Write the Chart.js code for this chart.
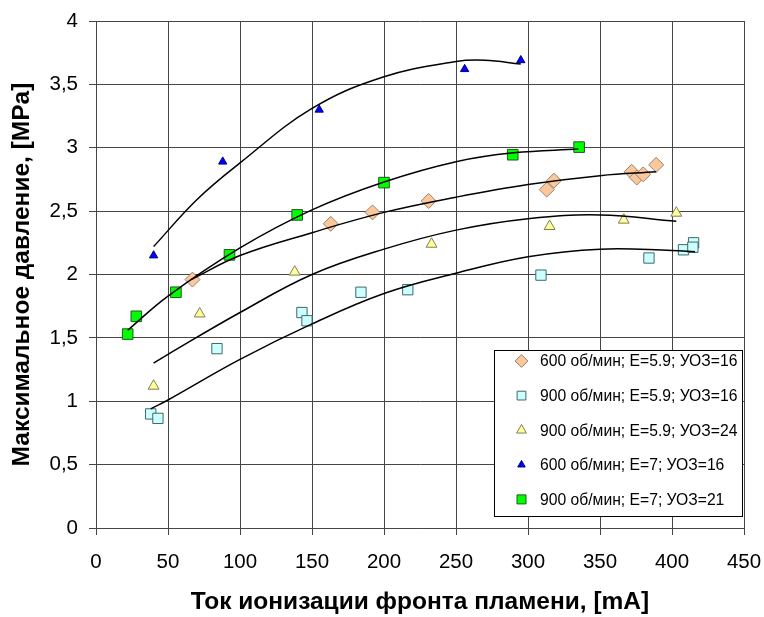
<!DOCTYPE html>
<html>
<head>
<meta charset="utf-8">
<script src="https://cdn.jsdelivr.net/npm/chart.js@4.4.1/dist/chart.umd.min.js"></script>
<style>
  html, body { margin: 0; padding: 0; background: #fff; }
  #wrap { width: 764px; height: 617px; }
</style>
</head>
<body>
<div id="wrap"><canvas id="chart" width="764" height="617"></canvas></div>
<script>
// measured points
const orangeX = [67, 163, 192, 231, 313, 318, 372, 375.5, 380, 389]
const orangeY = [1.96, 2.40, 2.49, 2.58, 2.67, 2.74, 2.81, 2.765, 2.79, 2.865]

const cyanX = [38, 43, 84, 143, 146.5, 184, 216.5, 309, 384, 408, 415, 414.5]
const cyanY = [0.90, 0.865, 1.415, 1.70, 1.635, 1.86, 1.88, 1.995, 2.13, 2.195, 2.25, 2.215]

const yellowX = [40, 72, 138, 233, 315, 366.5, 403]
const yellowY = [1.12, 1.69, 2.02, 2.24, 2.38, 2.43, 2.485]

const blueX = [40, 88, 155, 256, 295]
const blueY = [2.15, 2.89, 3.30, 3.62, 3.69]

const greenX = [22, 28, 55.5, 92.7, 139.7, 200, 289.4, 335.5]
const greenY = [1.53, 1.67, 1.86, 2.155, 2.47, 2.725, 2.945, 3.005]

// trend lines
const orangeTrendX = [66, 100, 150, 200, 250, 300, 350, 389]
const orangeTrendY = [1.96, 2.15, 2.33, 2.49, 2.61, 2.71, 2.78, 2.81]

const cyanTrendX = [38, 50, 100, 150, 200, 250, 300, 350, 400, 416]
const cyanTrendY = [0.94, 1.01, 1.33, 1.61, 1.85, 2.01, 2.14, 2.20, 2.19, 2.18]

const yellowTrendX = [40, 50, 100, 150, 200, 250, 300, 350, 403]
const yellowTrendY = [1.30, 1.37, 1.70, 2.00, 2.20, 2.35, 2.44, 2.47, 2.42]

const blueTrendX = [40, 70, 100, 150, 200, 250, 270, 295]
const blueTrendY = [2.22, 2.59, 2.88, 3.31, 3.56, 3.68, 3.69, 3.66]

const greenTrendX = [22, 50, 100, 150, 200, 250, 290, 335]
const greenTrendY = [1.56, 1.83, 2.21, 2.51, 2.73, 2.89, 2.96, 2.99]

const labels = [
  '600 об/мин; E=5.9; УОЗ=16',
  '900 об/мин; E=5.9; УОЗ=16',
  '900 об/мин; E=5.9; УОЗ=24',
  '600 об/мин; E=7; УОЗ=16',
  '900 об/мин; E=7; УОЗ=21'
]

const xTitle = 'Ток ионизации фронта пламени, [mA]'
const yTitle = 'Максимальное давление, [MPa]'

const FONT = "'Liberation Sans', Arial, sans-serif"

function toPoints(xs, ys) {
  return xs.map((x, i) => ({ x: x, y: ys[i] }))
}

function trend(xs, ys) {
  return {
    type: 'line',
    data: toPoints(xs, ys),
    borderColor: '#000',
    borderWidth: 1.5,
    pointRadius: 0,
    tension: 0.4,
    fill: false
  }
}

const markers = [
  { label: labels[0], data: toPoints(orangeX, orangeY), pointStyle: 'rectRot', pointRadius: 7.5, backgroundColor: '#FBC79C', borderColor: '#9C8069' },
  { label: labels[1], data: toPoints(cyanX, cyanY), pointStyle: 'rect', pointRadius: 7.3, backgroundColor: '#CCFFFF', borderColor: '#3F6868' },
  { label: labels[2], data: toPoints(yellowX, yellowY), pointStyle: 'triangle', pointRadius: 6.3, backgroundColor: '#FFFF99', borderColor: '#7F7F5A' },
  { label: labels[3], data: toPoints(blueX, blueY), pointStyle: 'triangle', pointRadius: 4.8, backgroundColor: '#0000FF', borderColor: '#000080' },
  { label: labels[4], data: toPoints(greenX, greenY), pointStyle: 'rect', pointRadius: 7.5, backgroundColor: '#00FF00', borderColor: '#1E5A1E' }
].map((d) => ({ ...d, type: 'scatter', borderWidth: 1, pointHoverRadius: d.pointRadius }))

const trends = [
  trend(orangeTrendX, orangeTrendY),
  trend(cyanTrendX, cyanTrendY),
  trend(yellowTrendX, yellowTrendY),
  trend(blueTrendX, blueTrendY),
  trend(greenTrendX, greenTrendY)
]

// legend box drawn inside the plot
const boxLegend = {
  id: 'boxLegend',
  afterDraw(chart) {
    const ctx = chart.ctx
    const x0 = 494, y0 = 350, w = 248, h = 166
    ctx.save()
    ctx.fillStyle = '#fff'
    ctx.fillRect(x0, y0, w, h)
    ctx.strokeStyle = '#000'
    ctx.lineWidth = 1
    ctx.strokeRect(x0 + 0.5, y0 + 0.5, w, h)
    markers.forEach((m, i) => {
      const cy = y0 + 11 + i * 34.6
      ctx.fillStyle = m.backgroundColor
      ctx.strokeStyle = m.borderColor
      ctx.lineWidth = 1
      Chart.helpers.drawPoint(ctx, {
        pointStyle: m.pointStyle,
        radius: m.pointStyle === 'triangle' ? m.pointRadius * 0.9 : m.pointRadius * 0.85,
        rotation: 0,
        borderWidth: 1
      }, 521.5, cy)
      ctx.fillStyle = '#000'
      ctx.font = '15.7px ' + FONT
      ctx.textBaseline = 'middle'
      ctx.fillText(m.label, 540, cy + 1)
    })
    ctx.restore()
  }
}

new Chart(document.getElementById('chart').getContext('2d'), {
  data: { datasets: [...trends, ...markers] },
  options: {
    responsive: false,
    devicePixelRatio: 1,
    animation: false,
    layout: { padding: { top: 21, right: 20, left: 0, bottom: 0 } },
    plugins: {
      legend: { display: false },
      tooltip: { enabled: false }
    },
    scales: {
      x: {
        type: 'linear',
        min: 0,
        max: 450,
        afterFit: (scale) => {
          scale.height = 89
          scale.paddingLeft = 0
          scale.paddingRight = 0
        },
        ticks: { stepSize: 50, color: '#000', padding: 15, maxRotation: 0, font: { family: FONT, size: 20.5 } },
        grid: { color: '#454545', lineWidth: 1, tickLength: 7 },
        border: { color: '#454545' },
        title: { display: true, text: xTitle, color: '#000', padding: { top: 0, bottom: 0 }, font: { family: FONT, size: 24.5, weight: 'bold' } }
      },
      y: {
        min: 0,
        max: 4,
        afterFit: (scale) => {
          scale.width = 96
          scale.paddingTop = 0
          scale.paddingBottom = 0
        },
        ticks: {
          stepSize: 0.5,
          color: '#000',
          padding: 11,
          font: { family: FONT, size: 20.5 },
          callback: (v) => String(v).replace('.', ',')
        },
        grid: { color: '#454545', lineWidth: 1, tickLength: 7 },
        border: { color: '#454545' },
        title: { display: true, text: yTitle, color: '#000', padding: { top: 8, bottom: 0 }, font: { family: FONT, size: 24.5, weight: 'bold' } }
      }
    }
  },
  plugins: [boxLegend]
})
</script>
</body>
</html>
